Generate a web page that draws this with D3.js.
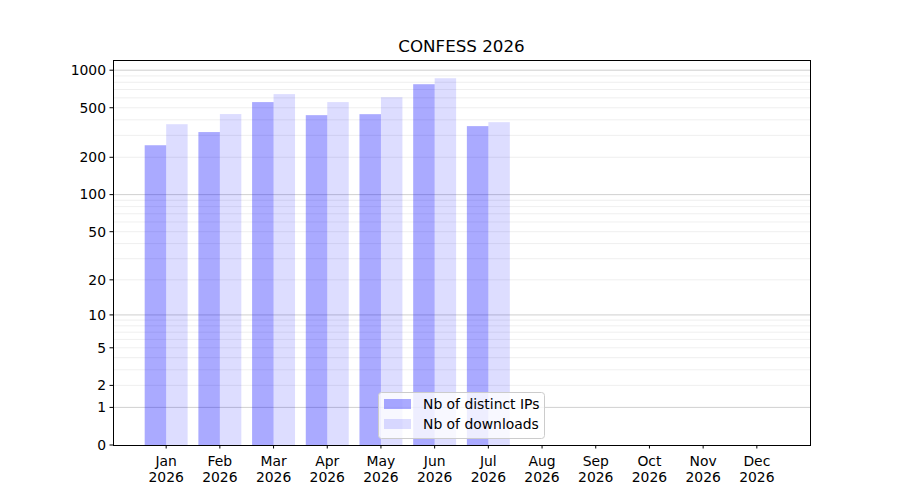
<!DOCTYPE html>
<html><head><meta charset="utf-8">
<script src="https://cdn.jsdelivr.net/npm/d3@7"></script>
<style>body{margin:0;background:#fff}svg{display:block;font-family:"DejaVu Sans",sans-serif}</style>
</head><body><svg id="c" width="900" height="500"></svg>
<script>
const months = ["Jan","Feb","Mar","Apr","May","Jun","Jul","Aug","Sep","Oct","Nov","Dec"];
const year = "2026";
const ips = [250, 319, 555, 436, 444, 772, 356, 0, 0, 0, 0, 0];
const downloads = [369, 445, 643, 555, 607, 862, 383, 0, 0, 0, 0, 0];
const yTicks = [0, 1, 2, 5, 10, 20, 50, 100, 200, 500, 1000];
const majorGrid = [1, 10, 100, 1000];
const minorGrid = [2,3,4,5,6,7,8,9,20,30,40,50,60,70,80,90,200,300,400,500,600,700,800,900];
const title = "CONFESS 2026";
const seriesNames = ["Nb of distinct IPs", "Nb of downloads"];

const svg = d3.select("#c");
const L = 113, R = 810, T = 60, B = 445;
const ymax = d3.max(downloads) * 1.4;
const f = v => Math.log10(v + 1);
const yl = d3.scaleLinear().domain([0, f(ymax)]).range([B, T]);
const y = v => yl(f(v));
const x = d3.scaleLinear().domain([-0.99, 11.99]).range([L, R]);
const bw = 0.4;

// grid
svg.append("g").selectAll("line").data(minorGrid).join("line")
  .attr("x1", L).attr("x2", R).attr("y1", d => y(d)).attr("y2", d => y(d))
  .attr("stroke", "#ebebeb").attr("stroke-width", 0.8);
svg.append("g").selectAll("line").data(majorGrid).join("line")
  .attr("x1", L).attr("x2", R).attr("y1", d => y(d)).attr("y2", d => y(d))
  .attr("stroke", "#c4c4c4").attr("stroke-width", 0.8);

// bars
svg.append("g").selectAll("rect").data(ips).join("rect")
  .attr("x", (d, i) => x(i - bw)).attr("width", x(bw) - x(0))
  .attr("y", d => y(d)).attr("height", d => B - y(d))
  .attr("fill", "blue").attr("fill-opacity", 0.333);
svg.append("g").selectAll("rect").data(downloads).join("rect")
  .attr("x", (d, i) => x(i)).attr("width", x(bw) - x(0))
  .attr("y", d => y(d)).attr("height", d => B - y(d))
  .attr("fill", "blue").attr("fill-opacity", 0.133);

// axes frame
svg.append("rect").attr("x", L).attr("y", T).attr("width", R - L).attr("height", B - T)
  .attr("fill", "none").attr("stroke", "#000").attr("stroke-width", 1)
  .attr("shape-rendering", "crispEdges");

// y ticks
const yg = svg.append("g");
yTicks.forEach(v => {
  yg.append("line").attr("x1", L - 3.5).attr("x2", L).attr("y1", y(v)).attr("y2", y(v)).attr("stroke", "#000");
  yg.append("text").attr("x", L - 7).attr("y", y(v)).attr("dy", "0.35em")
    .attr("text-anchor", "end").attr("font-size", "13.9px").attr("fill", "#000").text(v);
});

// x ticks
const xg = svg.append("g");
months.forEach((m, i) => {
  xg.append("line").attr("x1", x(i)).attr("x2", x(i)).attr("y1", B).attr("y2", B + 3.5).attr("stroke", "#000");
  xg.append("text").attr("x", x(i)).attr("y", B + 21).attr("text-anchor", "middle")
    .attr("font-size", "13.9px").text(m);
  xg.append("text").attr("x", x(i)).attr("y", B + 37).attr("text-anchor", "middle")
    .attr("font-size", "13.9px").text(year);
});

// title
svg.append("text").attr("x", (L + R) / 2).attr("y", T - 8).attr("text-anchor", "middle")
  .attr("font-size", "16.7px").text(title);

// legend
const lg = svg.append("g");
lg.append("rect").attr("x", 378.5).attr("y", 392.5).attr("width", 166).attr("height", 46)
  .attr("rx", 3).attr("fill", "#fff").attr("fill-opacity", 0.8).attr("stroke", "#cccccc");
[0.333, 0.133].forEach((op, i) => {
  lg.append("rect").attr("x", 384).attr("y", 399 + i * 20).attr("width", 27).attr("height", 10)
    .attr("fill", "blue").attr("fill-opacity", op);
  lg.append("text").attr("x", 423).attr("y", 404 + i * 20).attr("dy", "0.35em")
    .attr("font-size", "13.9px").text(seriesNames[i]);
});
</script></body></html>
